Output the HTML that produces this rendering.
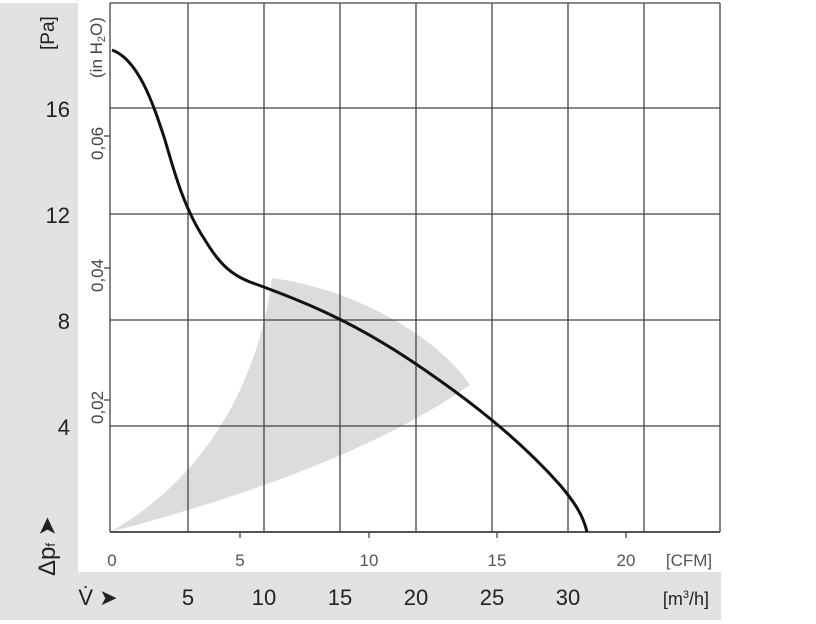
<!DOCTYPE html>
<html><head><meta charset="utf-8"><style>
body{margin:0;background:#fff;}
svg{display:block;font-family:"Liberation Sans",sans-serif;}
</style></head><body>
<svg width="816" height="624" viewBox="0 0 816 624">
<rect x="0" y="3" width="78" height="617" fill="#e1e2e3"/>
<rect x="78" y="572" width="643" height="48" fill="#e1e2e3"/>
<path d="M110,532 C200,508 360,462 470,385 C440,340 360,290 272,278 C262,360 220,470 110,532 Z" fill="#dcdcdc"/>
<g stroke="#444" stroke-width="1.3" fill="none">
<line x1="110" y1="3" x2="720" y2="3"/>
<line x1="110" y1="108" x2="720" y2="108"/>
<line x1="110" y1="214" x2="720" y2="214"/>
<line x1="110" y1="320" x2="720" y2="320"/>
<line x1="110" y1="426" x2="720" y2="426"/>
<line x1="110" y1="3" x2="110" y2="532"/>
<line x1="188" y1="3" x2="188" y2="532"/>
<line x1="264" y1="3" x2="264" y2="532"/>
<line x1="340" y1="3" x2="340" y2="532"/>
<line x1="416" y1="3" x2="416" y2="532"/>
<line x1="492" y1="3" x2="492" y2="532"/>
<line x1="568" y1="3" x2="568" y2="532"/>
<line x1="644" y1="3" x2="644" y2="532"/>
<line x1="720" y1="3" x2="720" y2="532"/>
<line x1="104" y1="136" x2="110" y2="136"/>
<line x1="104" y1="268" x2="110" y2="268"/>
<line x1="104" y1="400" x2="110" y2="400"/>
<line x1="240" y1="532" x2="240" y2="538"/>
<line x1="369" y1="532" x2="369" y2="538"/>
<line x1="497" y1="532" x2="497" y2="538"/>
<line x1="626" y1="532" x2="626" y2="538"/>
</g>
<line x1="110" y1="532" x2="720" y2="532" stroke="#555" stroke-width="2"/>
<path d="M112,50 C140,60 155,110 165,140 C175,175 185,210 205,240 C220,265 232,275 250,282 C300,300 350,320 410,360 C470,400 520,440 560,485 C575,503 583,515 587,532" fill="none" stroke="#111" stroke-width="3"/>
<g fill="#222" font-size="22" text-anchor="end">
<text x="70" y="117">16</text>
<text x="70" y="223">12</text>
<text x="70" y="329">8</text>
<text x="70" y="435">4</text>
</g>
<text transform="translate(54,50) rotate(-90)" font-size="19" fill="#222">[Pa]</text>
<g fill="#444" font-size="17">
<text transform="translate(102,78) rotate(-90)">(in H<tspan font-size="11" dy="3">2</tspan><tspan dy="-3">O)</tspan></text>
<text transform="translate(103,160) rotate(-90)">0,06</text>
<text transform="translate(103,292) rotate(-90)">0,04</text>
<text transform="translate(103,424) rotate(-90)">0,02</text>
</g>
<text transform="translate(55,576) rotate(-90)" font-size="24" fill="#222">Δp<tspan font-size="13">f</tspan> ➤</text>
<g fill="#555" font-size="17" text-anchor="middle">
<text x="112" y="566">0</text>
<text x="240" y="566">5</text>
<text x="369" y="566">10</text>
<text x="497" y="566">15</text>
<text x="626" y="566">20</text>
<text x="689" y="566">[CFM]</text>
</g>
<g fill="#222" font-size="22" text-anchor="middle">
<text x="98" y="605">V̇ ➤</text>
<text x="188" y="605">5</text>
<text x="264" y="605">10</text>
<text x="340" y="605">15</text>
<text x="416" y="605">20</text>
<text x="492" y="605">25</text>
<text x="568" y="605">30</text>
</g>
<text x="686" y="605" font-size="18" fill="#222" text-anchor="middle">[m<tspan font-size="11" dy="-7">3</tspan><tspan dy="7">/h]</tspan></text>
</svg>
</body></html>
